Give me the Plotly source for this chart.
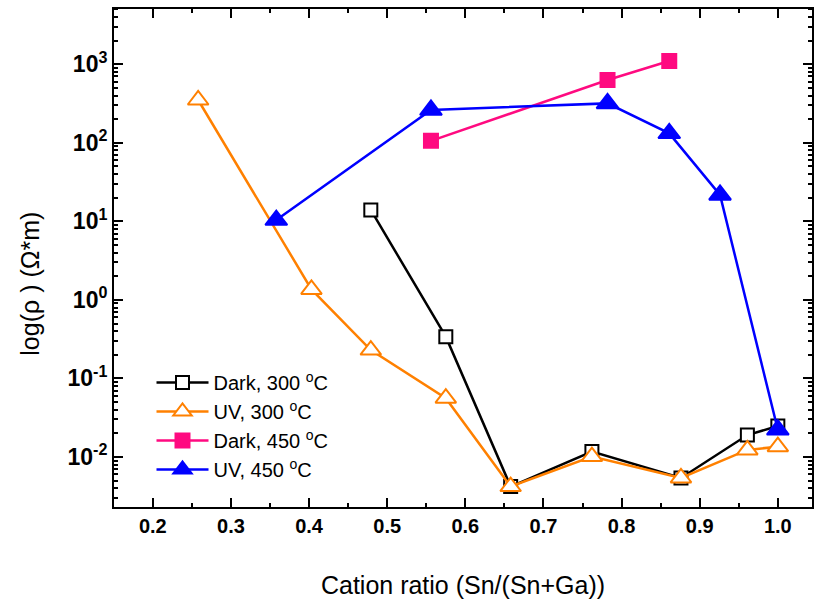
import plotly.graph_objects as go

# Data
dark300_x = [0.479, 0.575, 0.658, 0.762, 0.876, 0.961, 1.0]
dark300_y = [14.0, 0.34, 0.0042, 0.0117, 0.0054, 0.019, 0.0248]

uv300_x = [0.258, 0.403, 0.479, 0.575, 0.658, 0.762, 0.876, 0.961, 1.0]
uv300_y = [351, 1.36, 0.23, 0.056, 0.0042, 0.0101, 0.0054, 0.0123, 0.0135]

dark450_x = [0.556, 0.782, 0.861]
dark450_y = [106, 631, 1100]

uv450_x = [0.358, 0.556, 0.782, 0.861, 0.926, 1.0]
uv450_y = [10.4, 262, 318, 132, 21.7, 0.0222]

x_ticks = [0.2, 0.3, 0.4, 0.5, 0.6, 0.7, 0.8, 0.9, 1.0]
x_ticklabels = ["0.2", "0.3", "0.4", "0.5", "0.6", "0.7", "0.8", "0.9", "1.0"]
y_exps = [-2, -1, 0, 1, 2, 3]

x_title = "Cation ratio (Sn/(Sn+Ga))"
y_title = "log(ρ ) (Ω*m)"

fig = go.Figure()

def add(x, y, name, color, symbol, size, filled):
    fig.add_trace(go.Scatter(
        x=x, y=y, name=name, mode="lines+markers",
        line=dict(color=color, width=2.5),
        marker=dict(symbol=symbol, size=size, color=color if filled else "white",
                    line=dict(color=color, width=2)),
    ))

add(dark300_x, dark300_y, "Dark, 300 <sup>o</sup>C", "black", "square", 13, False)
add(uv300_x, uv300_y, "UV, 300 <sup>o</sup>C", "#FF8000", "triangle-up", 18, False)
add(dark450_x, dark450_y, "Dark, 450 <sup>o</sup>C", "#FF0A80", "square", 14, True)
add(uv450_x, uv450_y, "UV, 450 <sup>o</sup>C", "#0000FF", "triangle-up", 19, True)

minor_y = [k * 10 ** e for e in range(-3, 4) for k in range(2, 10)]

fig.update_layout(
    xaxis=dict(
        range=[0.149, 1.045], tickmode="array", tickvals=x_ticks,
        ticktext=["<b>%s</b>" % t for t in x_ticklabels],
        ticks="inside", ticklen=10, tickwidth=1.5, tickcolor="black",
        showline=True, linecolor="black", mirror="allticks",
        showgrid=False, zeroline=False,
        tickfont=dict(family="Liberation Sans, Arial", size=20, color="black"),
        minor=dict(ticks="inside", ticklen=5, tickcolor="black", tickwidth=1.5),
        title=dict(text=x_title, standoff=40,
                   font=dict(family="Liberation Sans, Arial", size=25, color="black")),
    ),
    yaxis=dict(
        type="log", range=[-2.65, 3.717], tickmode="array",
        tickvals=[10 ** e for e in y_exps],
        ticktext=["<b>10<sup>%d</sup></b>" % e for e in y_exps],
        ticks="inside", ticklen=10, tickwidth=1.5, tickcolor="black",
        showline=True, linecolor="black", mirror="allticks",
        showgrid=False, zeroline=False,
        tickfont=dict(family="Liberation Sans, Arial", size=23, color="black"),
        minor=dict(ticks="inside", ticklen=5, tickcolor="black", tickwidth=1.5,
                   tickmode="array", tickvals=minor_y),
    ),
    plot_bgcolor="white", paper_bgcolor="white",
)

# plot frame (2 px, like the reference)
fig.add_shape(type="rect", xref="paper", yref="paper", x0=0, y0=0, x1=1, y1=1,
              line=dict(color="black", width=2), layer="above")

fig.add_annotation(
    text=y_title, textangle=-90, xref="paper", yref="paper",
    x=-0.119, y=0.448, xanchor="center", yanchor="middle", showarrow=False,
    font=dict(family="Liberation Sans, Arial", size=25, color="black"),
)

fig.update_layout(
    width=814, height=616,
    margin=dict(l=113, r=1, t=8, b=108),
    showlegend=True,
    legend=dict(x=0.055, y=0.29, xanchor="left", yanchor="top",
                bgcolor="rgba(0,0,0,0)", tracegroupgap=0, itemwidth=52,
                font=dict(family="Liberation Sans, Arial", size=20, color="black")),
)

fig.write_html("out.html")
